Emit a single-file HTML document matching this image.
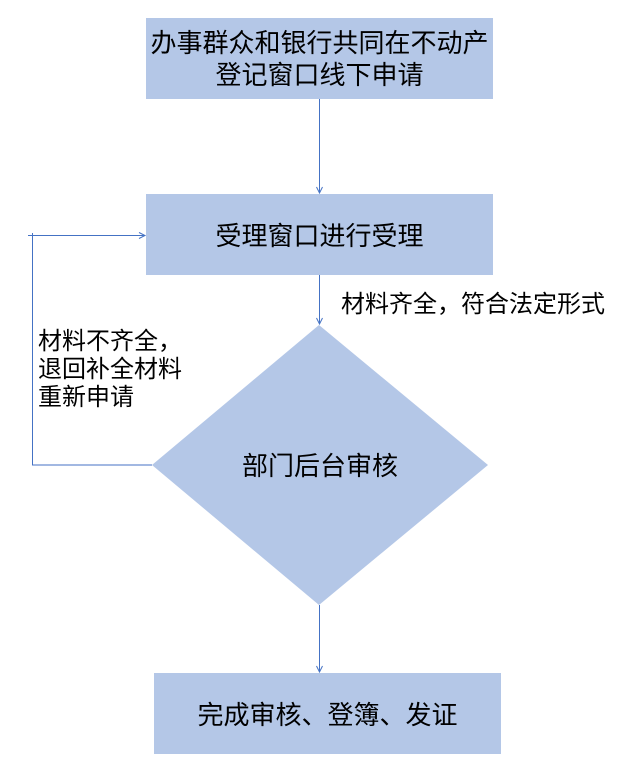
<!DOCTYPE html>
<html><head><meta charset="utf-8"><style>
html,body{margin:0;padding:0;background:#fff;}
svg{display:block;}
text{font-family:"Liberation Sans","Noto Sans CJK SC",sans-serif;fill:#000;}
</style></head><body>
<svg width="642" height="778" viewBox="0 0 642 778" xmlns="http://www.w3.org/2000/svg">
<defs>
<marker id="a" markerWidth="10" markerHeight="10" refX="7" refY="4" orient="auto" markerUnits="userSpaceOnUse">
<path d="M1,1 L7,4 L1,7" fill="none" stroke="#4472c4" stroke-width="1"/>
</marker>
</defs>
<rect x="146" y="18" width="347" height="81" fill="#b4c7e7"/>
<rect x="146" y="194" width="347" height="81" fill="#b4c7e7"/>
<polygon points="319,325 488,465 319,605 152,465" fill="#b4c7e7"/>
<rect x="154" y="673" width="347" height="81" fill="#b4c7e7"/>
<g stroke="#4472c4" stroke-width="1" fill="none">
<line x1="319.5" y1="99" x2="319.5" y2="193" marker-end="url(#a)"/>
<line x1="319.5" y1="275" x2="319.5" y2="324" marker-end="url(#a)"/>
<line x1="319.5" y1="605" x2="319.5" y2="672" marker-end="url(#a)"/>
<polyline points="152,465 32.5,465 32.5,233"/>
<line x1="28" y1="235.5" x2="145" y2="235.5" marker-end="url(#a)"/>
</g>
<g font-size="26" text-anchor="middle">
<text x="319.5" y="52">办事群众和银行共同在不动产</text>
<text x="319.5" y="84">登记窗口线下申请</text>
<text x="319.5" y="245">受理窗口进行受理</text>
<text x="320" y="475">部门后台审核</text>
<text x="327.5" y="724">完成审核、登簿、发证</text>
</g>
<g font-size="24">
<text x="341" y="312">材料齐全，符合法定形式</text>
<text x="38" y="349">材料不齐全，</text>
<text x="38" y="377">退回补全材料</text>
<text x="38" y="405">重新申请</text>
</g>
</svg>
</body></html>
